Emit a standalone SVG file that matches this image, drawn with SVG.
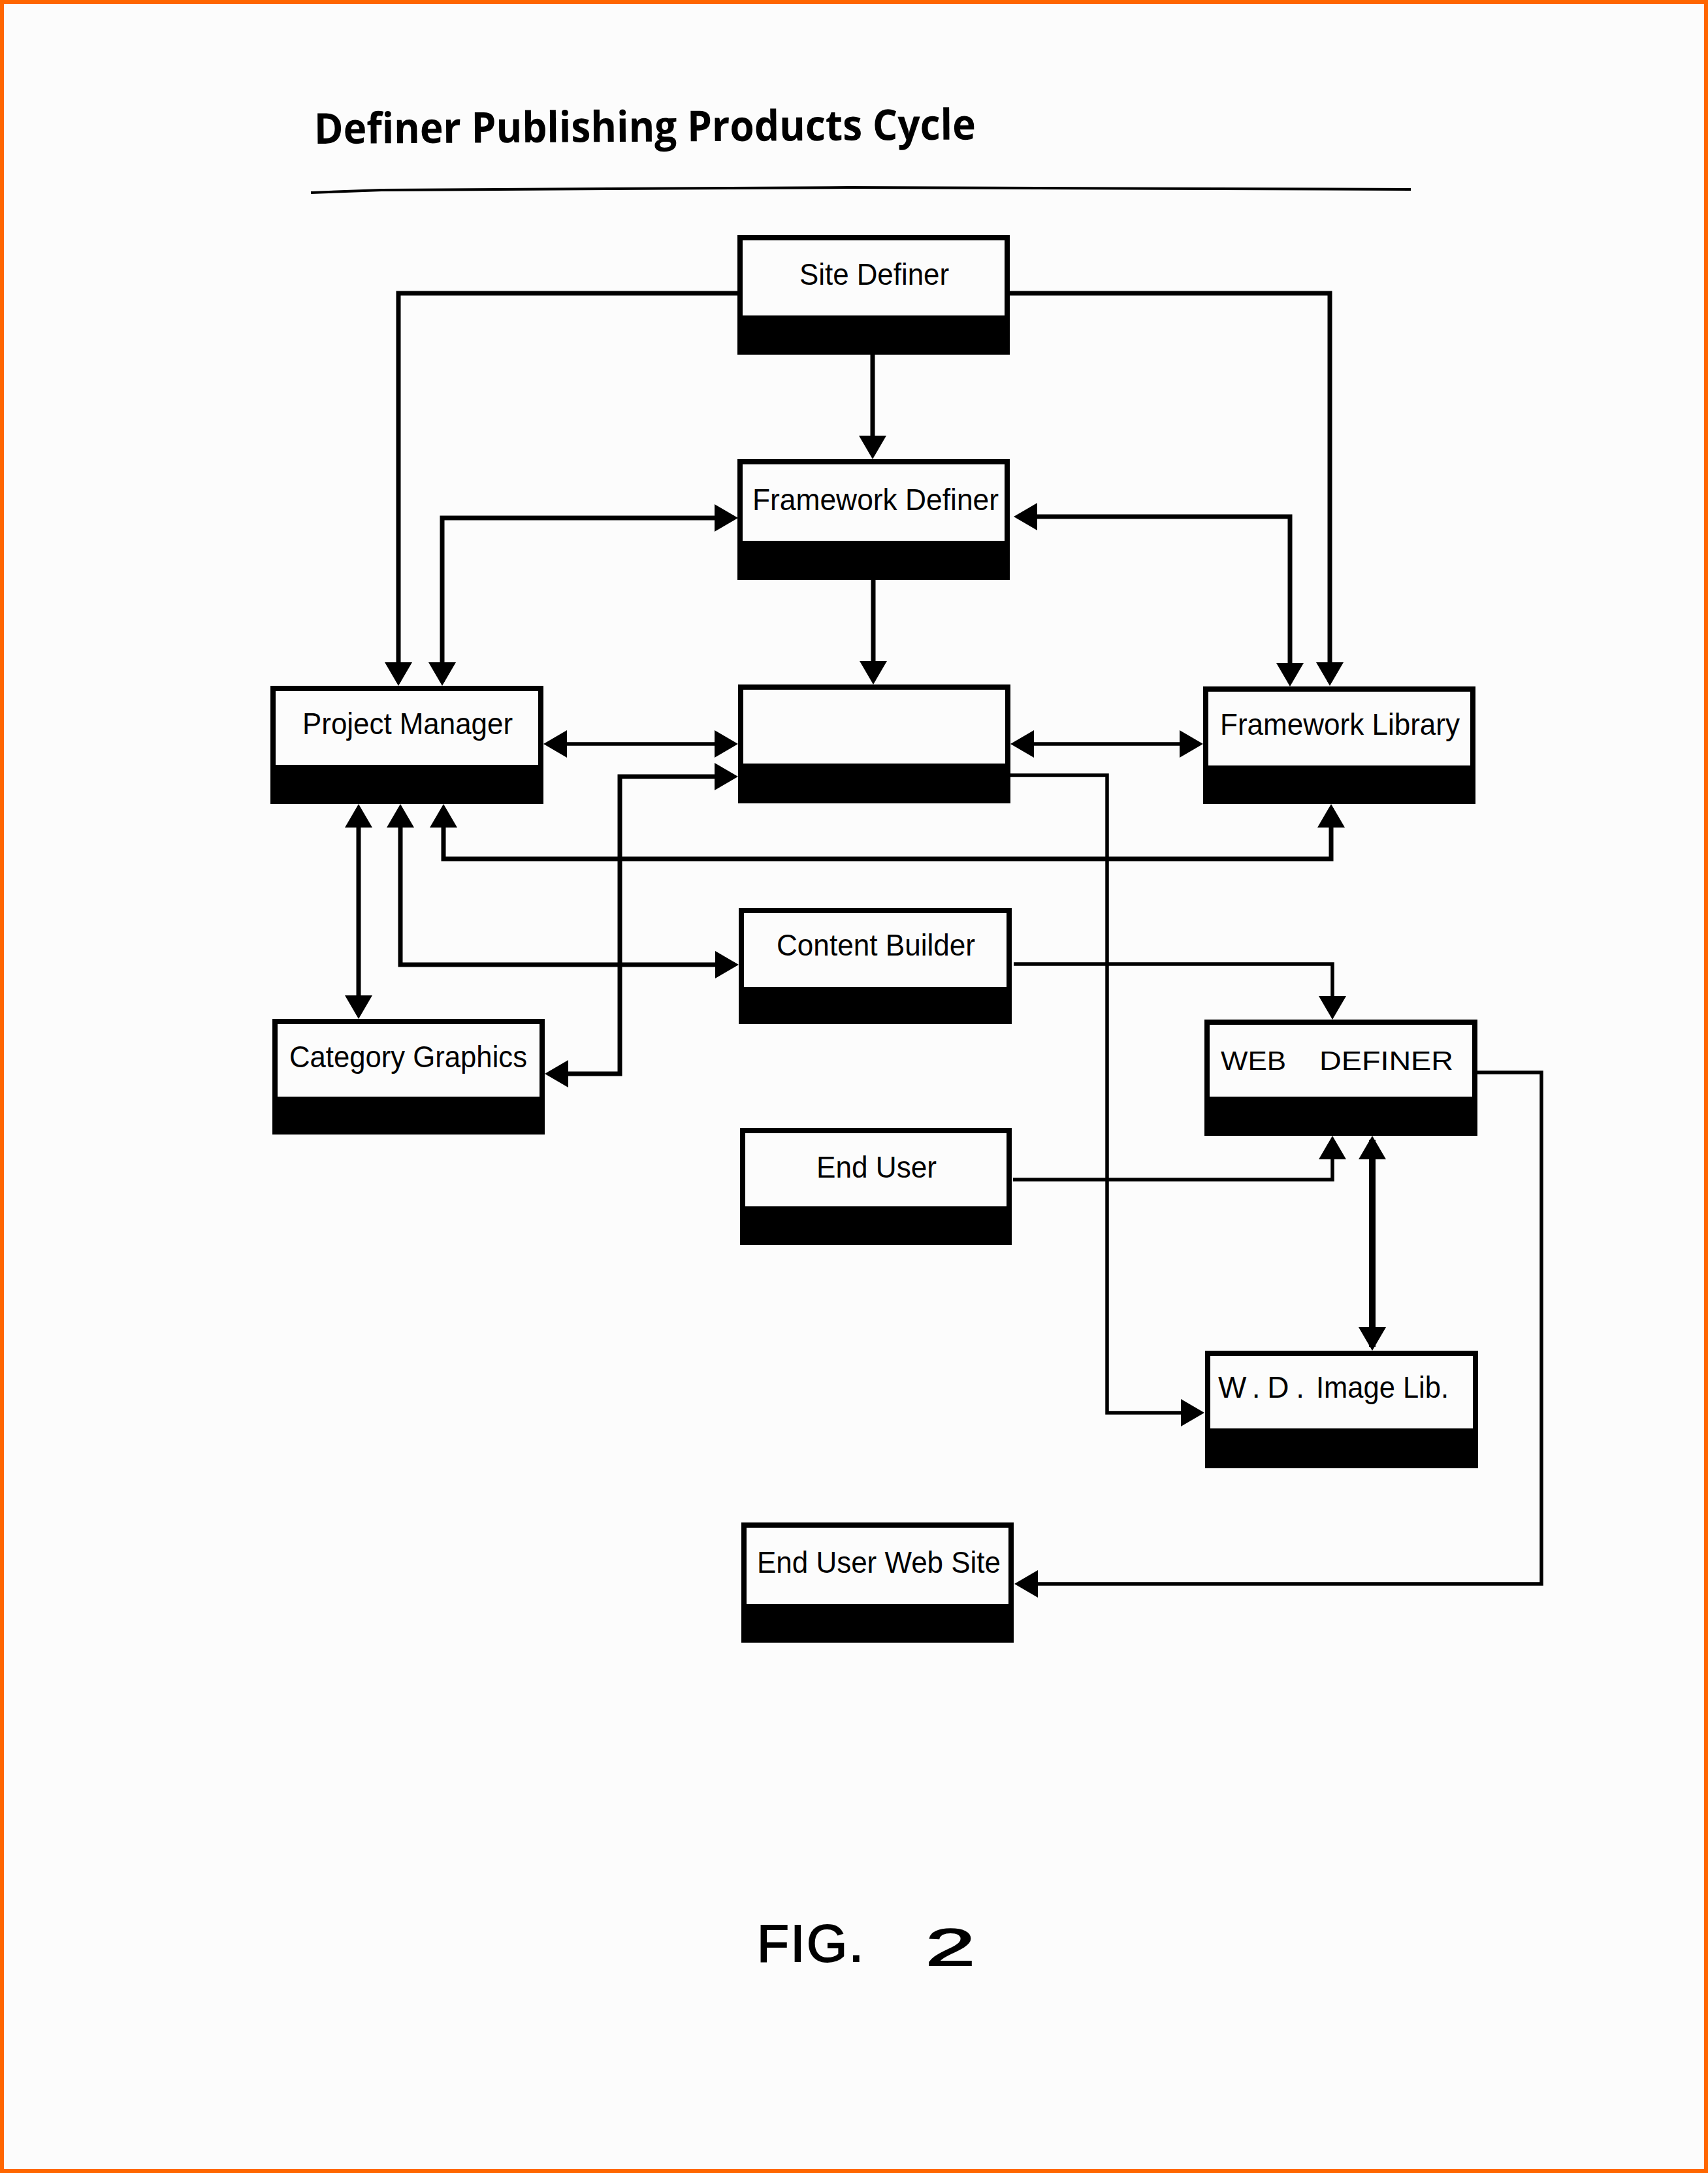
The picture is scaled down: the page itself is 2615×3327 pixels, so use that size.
<svg xmlns="http://www.w3.org/2000/svg" width="2615" height="3327" viewBox="0 0 2615 3327">
<style>
.box{fill:#fcfcfc;stroke:#000;stroke-width:8}
.bar{fill:#000}
.lbl{font-family:"Liberation Sans",Arial,sans-serif;font-size:46px;fill:#000}
.hand{font-family:"Liberation Sans",Arial,sans-serif;font-size:40px;fill:#000}
.c{fill:none;stroke:#000;stroke-width:7}
.n{stroke-width:5.500}
.t{stroke-width:10}
</style>
<defs>
<marker id="a" markerUnits="userSpaceOnUse" markerWidth="38" markerHeight="42" refX="30" refY="21" orient="auto-start-reverse"><path d="M0 0L36 21L0 42Z" fill="#000"/></marker>
</defs>
<rect x="3" y="3" width="2609" height="3321" fill="#fcfcfc" stroke="#ff6600" stroke-width="6"/>
<text id="title" x="481" y="220" transform="rotate(-0.37 481 220)" textLength="1013" lengthAdjust="spacingAndGlyphs" font-family="Open Sans,sans-serif" font-weight="700" font-size="65">Definer Publishing Products Cycle</text>
<path d="M476 295L584 291L1300 287L2160 290" fill="none" stroke="#000" stroke-width="4"/>
<g id="connectors">
<path class="c" d="M1130 449H610V1044" marker-end="url(#a)"/>
<path class="c" d="M1546 449H2036V1044" marker-end="url(#a)"/>
<path class="c" d="M1336 543V697" marker-end="url(#a)"/>
<path class="c" d="M1337 888V1042" marker-end="url(#a)"/>
<path class="c" d="M1124 793H677V1044" marker-start="url(#a)" marker-end="url(#a)"/>
<path class="c" d="M1558 791H1975V1045" marker-start="url(#a)" marker-end="url(#a)"/>
<path class="c n" d="M838 1139H1124" marker-start="url(#a)" marker-end="url(#a)"/>
<path class="c n" d="M1553 1139H1836" marker-start="url(#a)" marker-end="url(#a)"/>
<path class="c" d="M840 1644H949V1189H1124" marker-start="url(#a)" marker-end="url(#a)"/>
<path class="c" d="M679 1237V1315H2038V1237" marker-start="url(#a)" marker-end="url(#a)"/>
<path class="c" d="M613 1237V1477H1125" marker-start="url(#a)" marker-end="url(#a)"/>
<path class="c" d="M549 1237V1554" marker-start="url(#a)" marker-end="url(#a)"/>
<path class="c n" d="M1552 1476H2040V1555" marker-end="url(#a)"/>
<path class="c n" d="M1551 1806H2040V1745" marker-end="url(#a)"/>
<path class="c t" d="M2101 1745V2062" marker-start="url(#a)" marker-end="url(#a)"/>
<path class="c n" d="M1546 1187H1695V2163H1838" marker-end="url(#a)"/>
<path class="c n" d="M2262 1642H2360V2425H1559" marker-end="url(#a)"/>
</g>
<g id="site-definer"><rect class="box" x="1133" y="364" width="409" height="175"/><rect class="bar" x="1129" y="483" width="417" height="60"/><text class="lbl" x="1224" y="436" textLength="229" lengthAdjust="spacingAndGlyphs">Site Definer</text></g>
<g id="framework-definer"><rect class="box" x="1133" y="707" width="409" height="177"/><rect class="bar" x="1129" y="828" width="417" height="60"/><text class="lbl" x="1152" y="781" textLength="377" lengthAdjust="spacingAndGlyphs">Framework Definer</text></g>
<g id="project-manager"><rect class="box" x="418" y="1054" width="410" height="173"/><rect class="bar" x="414" y="1171" width="418" height="60"/><text class="lbl" x="463" y="1124" textLength="322" lengthAdjust="spacingAndGlyphs">Project Manager</text></g>
<g id="center-box"><rect class="box" x="1134" y="1052" width="409" height="174"/><rect class="bar" x="1130" y="1169" width="417" height="61"/></g>
<g id="framework-library"><rect class="box" x="1846" y="1055" width="409" height="172"/><rect class="bar" x="1842" y="1172" width="417" height="59"/><text class="lbl" x="1868" y="1125" textLength="367" lengthAdjust="spacingAndGlyphs">Framework Library</text></g>
<g id="content-builder"><rect class="box" x="1135" y="1394" width="410" height="170"/><rect class="bar" x="1131" y="1511" width="418" height="57"/><text class="lbl" x="1189" y="1463" textLength="304" lengthAdjust="spacingAndGlyphs">Content Builder</text></g>
<g id="category-graphics"><rect class="box" x="421" y="1564" width="409" height="169"/><rect class="bar" x="417" y="1679" width="417" height="58"/><text class="lbl" x="443" y="1634" textLength="364" lengthAdjust="spacingAndGlyphs">Category Graphics</text></g>
<g id="web-definer"><rect class="box" x="1848" y="1565" width="410" height="170"/><rect class="bar" x="1844" y="1679" width="418" height="60"/><text class="hand"><tspan x="1869" y="1638" textLength="100" lengthAdjust="spacingAndGlyphs">WEB</tspan><tspan x="2020" y="1638" textLength="205" lengthAdjust="spacingAndGlyphs">DEFINER</tspan></text></g>
<g id="end-user"><rect class="box" x="1137" y="1731" width="408" height="171"/><rect class="bar" x="1133" y="1847" width="416" height="59"/><text class="lbl" x="1250" y="1803" textLength="184" lengthAdjust="spacingAndGlyphs">End User</text></g>
<g id="wd-image-lib"><rect class="box" x="1849" y="2072" width="410" height="172"/><rect class="bar" x="1845" y="2187" width="418" height="61"/><text class="lbl"><tspan x="1865" y="2140" textLength="132" lengthAdjust="spacing">W.D.</tspan><tspan x="2015" y="2140" textLength="203" lengthAdjust="spacingAndGlyphs">Image Lib.</tspan></text></g>
<g id="end-user-web-site"><rect class="box" x="1139" y="2335" width="409" height="176"/><rect class="bar" x="1135" y="2456" width="417" height="59"/><text class="lbl" x="1159" y="2408" textLength="373" lengthAdjust="spacingAndGlyphs">End User Web Site</text></g>
<text id="fig" font-family="Liberation Sans,sans-serif" font-size="80" fill="#000" stroke="#000" stroke-width="2"><tspan x="1159" y="3003" textLength="163" lengthAdjust="spacing">FIG.</tspan><tspan x="1417" y="3009" textLength="76" lengthAdjust="spacingAndGlyphs">2</tspan></text>
</svg>
